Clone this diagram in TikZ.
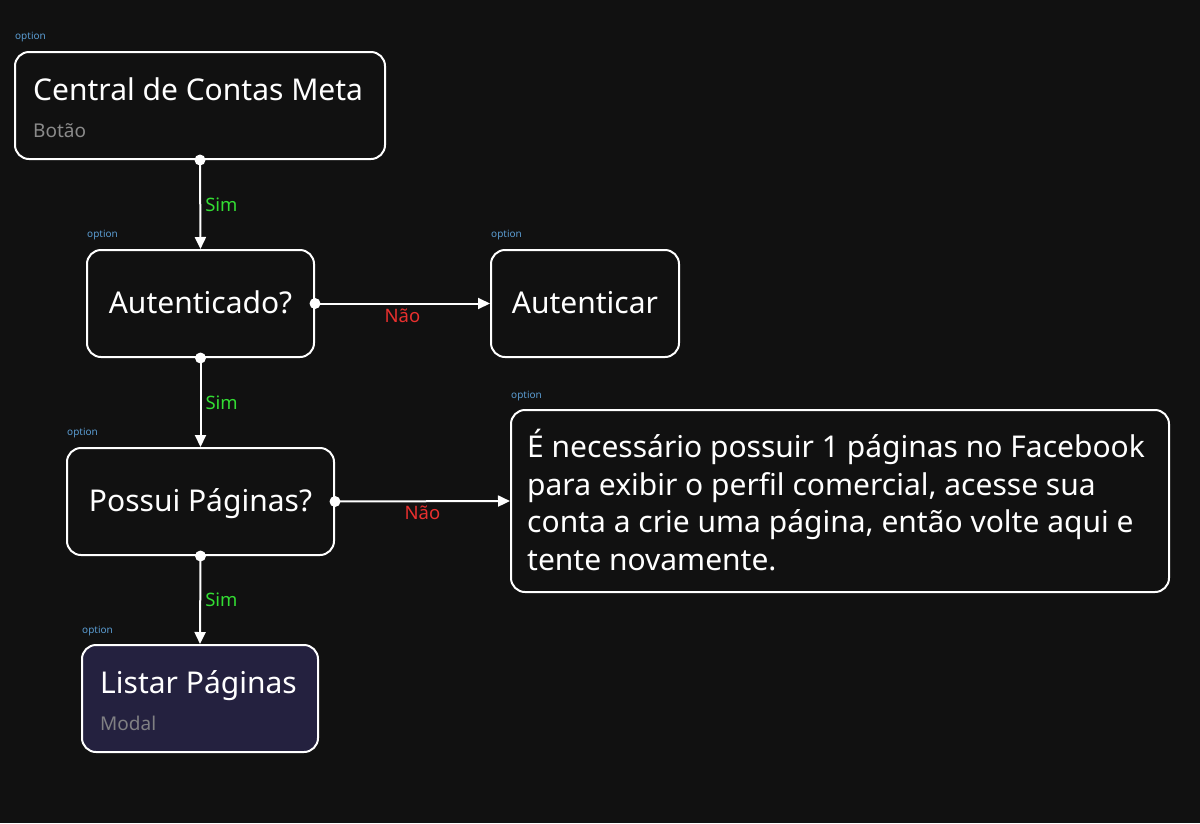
\documentclass[tikz,border=0pt]{standalone}
\usepackage{fontspec}
\setmainfont{Noto Sans}
\usetikzlibrary{arrows.meta}
\definecolor{bg}{HTML}{111111}
\definecolor{optblue}{HTML}{5A9BD0}
\definecolor{simgreen}{HTML}{33DD33}
\definecolor{naored}{HTML}{E8302E}
\definecolor{subgray}{HTML}{8A8A8A}
\definecolor{modalfill}{HTML}{24213F}
\tikzset{
  box/.style={draw=white, line width=2pt, rounded corners=14pt, minimum height=107pt},
  title/.style={text=white, font=\fontsize{30}{36}\selectfont, inner sep=0pt},
  sub/.style={text=subgray, font=\fontsize{19}{23}\selectfont, inner sep=0pt, anchor=base west},
  option/.style={text=optblue, font=\fontsize{10}{12}\selectfont, inner sep=0pt, anchor=west},
  sim/.style={text=simgreen, font=\fontsize{18.5}{22}\selectfont, right, inner sep=4pt},
  nao/.style={text=naored, font=\fontsize{18.5}{22}\selectfont, below, inner sep=4pt},
  flow/.style={draw=white, line width=2pt, -{Triangle[length=12pt,width=11pt]}},
  dot/.style={circle, fill=white, inner sep=0pt, minimum size=11pt}
}
\begin{document}
\begin{tikzpicture}[x=1pt,y=-1pt]
\useasboundingbox[fill=bg] (0,0) rectangle (1200,823);

\node [box, minimum width=370pt] (central) at (200,105.5) {};
\node [title, anchor=base west] (centralT) at (33,100) {Central de Contas Meta};
\node [sub] (centralS) at (33,137) {Botão};
\node [option] (opt1) at (15,37) {option};

\node [box, minimum width=227pt] (autent) at (200.5,303.5) {};
\node [title, anchor=base] (autentT) at (200.5,313) {Autenticado?};
\node [option] (opt2) at (87,235) {option};

\node [box, minimum width=188pt] (autenticar) at (585,303.5) {};
\node [title, anchor=base] (autenticarT) at (585,313) {Autenticar};
\node [option] (opt3) at (491,235) {option};

\node [box, minimum width=267pt] (possui) at (200.5,501.5) {};
\node [title, anchor=base] (possuiT) at (200.5,511) {Possui Páginas?};
\node [option] (opt4) at (67,433) {option};

\node [box, minimum width=658pt, minimum height=182pt] (aviso) at (840,501) {};
\node [title, anchor=north west, align=left, font=\fontsize{30}{37.5}\selectfont] (avisoT) at (527,429)
  {É necessário possuir 1 páginas no Facebook\\para exibir o perfil comercial, acesse sua\\conta a crie uma página, então volte aqui e\\tente novamente.};
\node [option] (opt5) at (511,396) {option};

\node [box, fill=modalfill, minimum width=236pt] (listar) at (200,698.5) {};
\node [title, anchor=base west] (listarT) at (100,693) {Listar Páginas};
\node [sub, text=subgray!90!modalfill] (listarS) at (100,730) {Modal};
\node [option] (opt6) at (82,631) {option};

\draw [flow] (central.south) -- (autent.north) node [midway, sim] {Sim};
\draw [flow] (autent.south) -- (possui.north) node [midway, sim] {Sim};
\draw [flow] (possui.south) -- (listar.north) node [midway, sim] {Sim};
\draw [flow] (autent.east) -- (autenticar.west) node [midway, nao] {Não};
\draw [flow] (possui.east) -- (aviso.west) node [midway, nao] {Não};

\node [dot] (d1) at (central.south) {};
\node [dot] (d2) at (autent.south) {};
\node [dot] (d3) at (autent.east) {};
\node [dot] (d4) at (possui.south) {};
\node [dot] (d5) at (possui.east) {};
\end{tikzpicture}
\end{document}
